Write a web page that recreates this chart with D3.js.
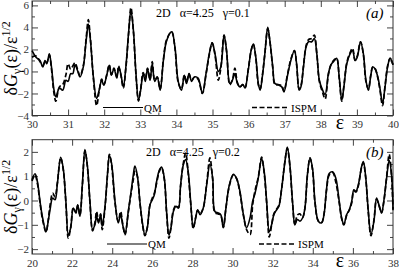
<!DOCTYPE html>
<html>
<head>
<meta charset="UTF-8">
<script src="https://cdn.jsdelivr.net/npm/d3@7"></script>
<style>
  body { margin: 0; background: #fff; }
  text { font-family: "Liberation Serif", "DejaVu Serif", serif; }
</style>
</head>
<body>
<div id="grafica"></div>
<script>
// panel (a): gamma = 0.1
epsA = [30.0,30.11,30.22,30.3,30.36,30.41,30.48,30.54,30.61,30.66,30.76,30.85,30.94,31.0,31.07,31.13,31.19,31.27,31.33,31.42,
        31.5,31.56,31.62,31.7,31.79,31.86,31.93,31.99,32.07,32.14,32.2,32.27,32.35,32.4,32.46,32.53,32.6,32.68,32.74,32.81,
        32.88,32.95,33.01,33.08,33.14,33.2,33.27,33.33,33.4,33.47,33.55,33.64,33.73,33.87,33.96,34.05,34.14,34.22,34.28,34.35,
        34.42,34.5,34.6,34.72,34.82,34.91,34.99,35.07,35.16,35.23,35.32,35.39,35.48,35.55,35.62,35.69,35.76,35.84,35.9,35.99,
        36.07,36.13,36.2,36.27,36.32,36.38,36.45,36.53,36.59,36.67,36.73,36.82,36.92,36.98,37.07,37.17,37.27,37.33,37.4,37.45,
        37.52,37.59,37.66,37.75,37.82,37.89,37.96,38.05,38.12,38.21,38.28,38.38,38.44,38.51,38.58,38.64,38.72,38.81,38.88,38.95,
        39.01,39.1,39.18,39.25,39.32,39.38,39.44,39.5,39.58,39.64,39.71,39.78,39.85,39.92,40.0]
qmA = [1.9,1.3,1.0,0.4,1.0,0.7,1.6,0.4,-1.7,-2.3,-1.5,-1.7,-0.8,-0.9,-0.2,-0.2,0.6,0.0,-0.5,0.4,
       2.8,4.3,2.8,-0.5,-2.45,-1.7,-0.8,-1.25,-0.35,0.55,-0.35,0.25,-0.6,0.4,-0.2,-1.4,0.4,3.7,5.55,3.7,
       -0.2,-2.6,-1.7,-0.2,-0.9,0.25,-0.8,0.7,-0.9,-0.5,-1.7,1.0,2.8,3.6,2.2,-0.9,-1.7,-0.35,-1.1,-0.2,
       -0.9,-0.5,-0.6,-2.0,-0.2,1.6,2.6,1.6,0.0,0.4,3.3,1.9,-1.1,-0.8,-0.2,-1.1,-1.4,-1.2,-1.5,0.1,
       1.9,2.5,1.3,-1.1,-1.7,-0.5,1.6,4.0,2.8,0.4,-1.1,-1.2,-1.4,-1.85,-0.5,1.0,1.9,0.7,-1.7,-1.4,
       0.4,2.2,2.7,2.7,3.0,1.6,-0.8,-1.7,-2.1,-0.2,0.6,1.0,1.2,-0.5,-2.6,-1.4,0.7,1.6,1.9,1.0,
       1.3,2.7,1.6,-0.8,-1.7,-0.5,0.4,0.25,-0.5,-1.55,-2.9,-1.4,0.4,1.2,0.6]
ispmA = [1.3,1.4,0.9,0.5,0.9,0.8,1.5,0.2,-2.0,-2.7,-1.4,-1.2,-0.3,0.7,0.2,0.5,0.8,0.1,-0.4,0.5,
       3.0,4.7,2.9,-0.6,-3.1,-1.8,-0.7,-1.2,-0.3,0.6,-0.3,0.3,-0.5,0.5,-0.3,-1.5,0.3,3.6,5.8,3.6,
       -0.3,-2.7,-1.6,-0.1,-0.6,0.3,-0.7,0.9,-0.8,-0.5,-1.6,1.1,2.9,3.6,2.1,-1.0,-1.6,-0.3,-1.0,-0.2,
       -0.8,-0.5,-0.7,-2.0,-0.3,1.5,2.6,1.5,-0.8,0.3,3.3,1.8,-1.2,-0.8,0.3,-1.0,-1.4,-1.2,-1.5,0.2,
       1.9,2.5,1.2,-1.2,-1.6,-0.4,1.6,3.9,2.7,0.3,-1.2,-1.2,-1.3,-1.8,-0.4,1.1,1.9,0.6,-1.6,-1.3,
       0.5,2.3,2.9,3.0,3.3,1.6,-0.9,-1.9,-2.5,-0.3,0.6,1.1,1.2,-0.6,-2.7,-1.3,0.8,1.7,2.1,1.0,
       1.4,2.7,1.5,-0.9,-1.6,-0.4,0.4,0.3,-0.6,-1.7,-3.1,-1.3,0.5,1.2,0.6]

// panel (b): gamma = 0.2
epsB = [20.0,20.15,20.27,20.4,20.53,20.7,20.81,20.9,21.03,21.15,21.26,21.43,21.56,21.69,21.81,21.93,22.06,22.19,22.28,22.39,
        22.51,22.64,22.76,22.89,23.02,23.14,23.22,23.32,23.42,23.5,23.64,23.76,23.86,23.97,24.14,24.3,24.42,24.52,24.64,24.8,
        24.94,25.05,25.13,25.25,25.38,25.52,25.63,25.75,25.88,26.0,26.1,26.21,26.35,26.46,26.6,26.71,26.83,26.93,27.05,27.18,
        27.3,27.41,27.54,27.66,27.79,27.91,28.04,28.16,28.26,28.38,28.54,28.71,28.87,29.01,29.12,29.29,29.41,29.54,29.67,29.84,
        30.04,30.2,30.37,30.54,30.7,30.87,31.0,31.12,31.28,31.45,31.58,31.7,31.83,31.95,32.06,32.2,32.31,32.45,32.61,32.73,
        32.86,32.99,33.11,33.23,33.36,33.49,33.61,33.73,33.86,33.99,34.11,34.28,34.44,34.56,34.69,34.82,34.99,35.15,35.32,35.44,
        35.55,35.69,35.82,35.94,36.05,36.15,36.27,36.43,36.52,36.63,36.77,36.9,37.05,37.18,37.3,37.43,37.55,37.68,37.81,37.93,38.0]
qmB = [0.85,1.1,0.77,-0.04,-0.72,-1.28,-0.85,-0.38,0.1,0.03,0.64,1.78,1.31,-0.04,-1.4,-1.12,-0.31,-0.51,-0.18,-0.65,
       0.64,2.1,1.45,-0.04,-1.19,-0.99,-0.65,-0.92,-0.58,-1.06,-0.24,1.04,1.85,1.52,-0.04,-0.92,-0.58,-0.99,-1.38,-0.45,
       0.37,1.04,1.42,1.04,-0.04,-0.99,-1.42,-1.12,-0.18,0.03,0.23,0.77,1.25,1.38,0.91,-0.45,-1.42,-1.12,-0.45,-0.24,
       -0.31,0.64,1.45,1.68,1.18,-0.04,-1.12,-0.72,-0.38,-0.58,-0.31,0.64,1.5,0.91,-0.45,-0.51,-0.58,-1.12,-0.31,0.64,
       1.08,0.91,0.37,-0.58,-1.12,-0.72,-0.04,0.3,0.91,1.72,1.18,-0.04,-1.28,-0.99,-0.58,-0.38,-0.24,0.5,1.59,2.2,
       1.45,-0.04,-0.99,-0.78,-0.85,-0.72,-0.31,1.04,1.75,1.31,-0.04,-0.85,-0.92,-0.58,0.5,1.11,1.18,0.91,-0.04,-0.72,
       -0.99,-0.58,-0.38,-0.04,0.44,0.37,0.64,1.38,1.6,1.04,-0.45,-1.4,-0.85,0.1,-0.18,-0.51,0.03,0.91,1.65,1.04,-0.35]
ispmB = [0.8,1.05,0.7,-0.1,-0.8,-1.3,-0.8,-0.2,0.3,0.15,0.7,1.75,1.25,-0.1,-1.55,-1.1,-0.3,-0.5,-0.2,-0.6,
       0.6,2.05,1.4,-0.1,-1.25,-0.9,-0.45,-0.85,-0.55,-1.2,-0.3,1.0,1.9,1.45,-0.1,-0.85,-0.45,-0.95,-1.4,-0.5,
       0.3,0.85,1.2,1.0,-0.1,-1.05,-1.45,-1.1,-0.2,0.1,0.3,0.7,1.2,1.35,0.85,-0.5,-1.55,-1.1,-0.4,-0.2,
       -0.3,0.6,1.5,1.95,1.1,-0.1,-1.15,-0.7,-0.4,-0.55,-0.3,0.7,1.75,0.85,-0.5,-0.55,-0.6,-1.1,-0.3,0.6,
       1.05,0.9,0.3,-0.6,-1.2,-1.4,-0.2,0.4,0.95,1.78,1.1,-0.1,-1.5,-1.0,-0.55,-0.35,-0.2,0.5,1.6,2.15,
       1.4,-0.1,-1.0,-0.6,-0.55,-0.7,-0.3,1.0,1.75,1.25,-0.1,-0.85,-0.9,-0.55,0.45,1.05,1.15,0.75,-0.1,-0.75,
       -1.0,-0.6,-0.4,-0.1,0.4,0.35,0.6,1.35,1.55,1.0,-0.5,-1.45,-0.8,0.05,-0.2,-0.5,0.0,0.95,1.9,1.0,-0.4]

ancho = 399
alto = 270

svg = d3.select('#grafica')
  .append('svg')
  .attr('width', ancho)
  .attr('height', alto)

function panel(p) {
  x = d3.scaleLinear().domain(p.xdom).range([32, 393])
  y = d3.scaleLinear().domain(p.ydom).range([p.bottom, p.top])
  g = svg.append('g')

  // minor ticks, all four sides, pointing inward
  g.append('g').attr('transform', 'translate(0,' + p.bottom + ')')
    .call(d3.axisBottom(x).tickValues(p.xminor).tickSize(-3).tickFormat(''))
  g.append('g').attr('transform', 'translate(0,' + p.top + ')')
    .call(d3.axisTop(x).tickValues(p.xminor).tickSize(-3).tickFormat(''))
  g.append('g').attr('transform', 'translate(32,0)')
    .call(d3.axisLeft(y).tickValues(p.yminor).tickSize(-3).tickFormat(''))
  g.append('g').attr('transform', 'translate(393,0)')
    .call(d3.axisRight(y).tickValues(p.yminor).tickSize(-3).tickFormat(''))

  // major ticks
  g.append('g').attr('class', 'ax').attr('transform', 'translate(0,' + p.bottom + ')')
    .call(d3.axisBottom(x).tickValues(p.xmajor).tickSize(-6).tickPadding(5).tickFormat(d3.format('d')))
  g.append('g').attr('transform', 'translate(0,' + p.top + ')')
    .call(d3.axisTop(x).tickValues(p.xmajor).tickSize(-6).tickFormat(''))
  g.append('g').attr('class', 'ax').attr('transform', 'translate(32,0)')
    .call(d3.axisLeft(y).tickValues(p.ymajor).tickSize(-6).tickPadding(3).tickFormat(d3.format('d')))
  g.append('g').attr('transform', 'translate(393,0)')
    .call(d3.axisRight(y).tickValues(p.ymajor).tickSize(-6).tickFormat(''))

  g.selectAll('.domain').remove()
  g.selectAll('.tick line').attr('stroke', '#444')
  g.selectAll('.ax text').attr('font-size', 11).attr('font-family', 'Liberation Serif').attr('fill', '#333')

  g.append('rect')
    .attr('x', 32).attr('y', p.top)
    .attr('width', 361).attr('height', p.bottom - p.top)
    .attr('fill', 'none').attr('stroke', '#333').attr('stroke-width', 1)

  line = d3.line()
    .x(function(d) { return x(d[0]) })
    .y(function(d) { return y(d[1]) })
    .curve(d3.curveCatmullRom.alpha(0.5))

  qm = p.eps.map(function(e, i) { return [e, p.qm[i]] })
  ispm = p.eps.map(function(e, i) { return [e, p.ispm[i]] })

  g.append('path').datum(ispm).attr('d', line)
    .attr('fill', 'none').attr('stroke', '#000').attr('stroke-width', 1.7)
    .attr('stroke-dasharray', '5,2.5')
  g.append('path').datum(qm).attr('d', line)
    .attr('fill', 'none').attr('stroke', '#000').attr('stroke-width', 1.6)

  // legend
  g.append('line').attr('x1', p.qmx).attr('x2', p.qmx + 40).attr('y1', p.legy).attr('y2', p.legy)
    .attr('stroke', '#000').attr('stroke-width', 1.2)
  g.append('text').attr('x', p.qmx + 41).attr('y', p.legy + 4).attr('font-size', 11).text('QM')
  g.append('line').attr('x1', p.isx).attr('x2', p.isx + 37).attr('y1', p.legy).attr('y2', p.legy)
    .attr('stroke', '#000').attr('stroke-width', 1.7).attr('stroke-dasharray', '5,2.5')
  g.append('text').attr('x', p.isx + 39).attr('y', p.legy + 4).attr('font-size', 11).text('ISPM')

  // parameters and panel letter
  g.append('text').attr('x', p.txtx).attr('y', p.top + 16).attr('font-size', 12)
    .attr('xml:space', 'preserve')
    .text('2D   \u03b1=4.25   \u03b3=' + p.gamma)
  g.append('text').attr('x', 366).attr('y', p.top + 17).attr('font-size', 15)
    .attr('font-style', 'italic').text(p.letter)

  // x label
  g.append('text').attr('x', 340).attr('y', p.bottom + 13).attr('font-size', 20)
    .attr('text-anchor', 'middle').text('\u03b5')

  // y label
  yl = g.append('text')
    .attr('transform', 'translate(17,' + ((p.top + p.bottom) / 2) + ') rotate(-90)')
    .attr('text-anchor', 'middle').attr('font-size', 18)
  yl.append('tspan').text('\u03b4')
  yl.append('tspan').attr('font-style', 'italic').text('G')
  yl.append('tspan').attr('font-size', 12).attr('dy', 4).text('\u03b3')
  yl.append('tspan').attr('dy', -4).text('(\u03b5)/\u03b5')
  yl.append('tspan').attr('font-size', 12).attr('dy', -7).text('1/2')
}

panel({
  eps: epsA, qm: qmA, ispm: ispmA,
  xdom: [30, 40], ydom: [-4, 6.4], top: 1, bottom: 115.5,
  xmajor: d3.range(30, 40.01, 1), xminor: d3.range(30.5, 40, 1),
  ymajor: [-4, -2, 0, 2, 4, 6], yminor: [-3, -1, 1, 3, 5],
  legy: 107.5, qmx: 103, isx: 252, txtx: 156, gamma: '0.1', letter: '(a)'
})

panel({
  eps: epsB, qm: qmB, ispm: ispmB,
  xdom: [20, 38], ydom: [-2.2, 2.5], top: 139.7, bottom: 254,
  xmajor: d3.range(20, 38.01, 2), xminor: d3.range(21, 38, 2),
  ymajor: [-2, -1, 0, 1, 2], yminor: [-1.5, -0.5, 0.5, 1.5],
  legy: 244, qmx: 107, isx: 259, txtx: 146, gamma: '0.2', letter: '(b)'
})
</script>
</body>
</html>
